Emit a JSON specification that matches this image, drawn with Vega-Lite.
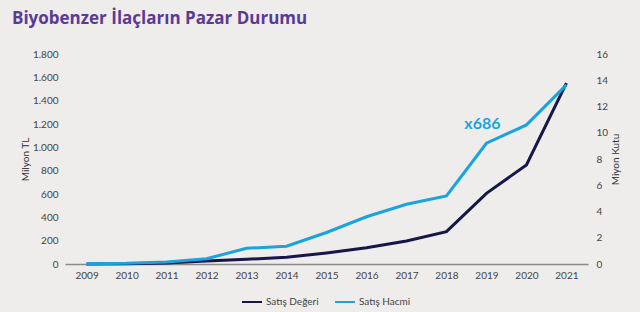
{
  "$schema": "https://vega.github.io/schema/vega-lite/v6.json",
  "width": 523,
  "height": 210,
  "autosize": {"type": "none"},
  "padding": {"left": 65, "top": 54, "right": 52, "bottom": 48},
  "background": "#eeedeb",
  "title": {
    "text": "Biyobenzer İlaçların Pazar Durumu",
    "anchor": "start",
    "frame": "group",
    "dx": -53,
    "offset": 21,
    "font": "Open Sans",
    "fontSize": 17,
    "fontWeight": "bold",
    "color": "#5b3a94"
  },
  "config": {
    "view": {"stroke": null},
    "axis": {"labelFont": "Lato", "labelFontSize": 10, "labelColor": "#444444", "titleFont": "Lato", "titleFontSize": 10, "titleFontWeight": "normal", "titleColor": "#333333", "grid": false, "ticks": false},
    "legend": {"labelFont": "Lato", "labelFontSize": 10, "labelColor": "#444444"}
  },
  "data": {
    "values": [
      {"year": "2009", "deger": 0, "hacim": 0.02},
      {"year": "2010", "deger": 2, "hacim": 0.05},
      {"year": "2011", "deger": 8, "hacim": 0.15},
      {"year": "2012", "deger": 25, "hacim": 0.4},
      {"year": "2013", "deger": 40, "hacim": 1.2},
      {"year": "2014", "deger": 57, "hacim": 1.35},
      {"year": "2015", "deger": 95, "hacim": 2.4},
      {"year": "2016", "deger": 140, "hacim": 3.6},
      {"year": "2017", "deger": 197, "hacim": 4.55},
      {"year": "2018", "deger": 277, "hacim": 5.18},
      {"year": "2019", "deger": 606, "hacim": 9.2},
      {"year": "2020", "deger": 849, "hacim": 10.6},
      {"year": "2021", "deger": 1550, "hacim": 13.65}
    ]
  },
  "encoding": {
    "x": {
      "field": "year",
      "type": "ordinal",
      "scale": {"type": "point", "padding": 0.54},
      "axis": {"title": null, "labelAngle": 0, "labelPadding": 6, "domainColor": "#8a8a8a", "domainWidth": 1.5}
    }
  },
  "layer": [
    {
      "mark": {"type": "line", "strokeWidth": 3},
      "encoding": {
        "y": {
          "field": "deger",
          "type": "quantitative",
          "scale": {"domain": [0, 1800]},
          "axis": {"title": "Milyon TL", "values": [0, 200, 400, 600, 800, 1000, 1200, 1400, 1600, 1800], "labelExpr": "replace(format(datum.value, ','), ',', '.')", "domain": false, "labelPadding": 7, "titlePadding": 2}
        },
        "color": {
          "datum": "Satış Değeri",
          "type": "nominal",
          "scale": {"domain": ["Satış Değeri", "Satış Hacmi"], "range": ["#15164a", "#1aa3df"]},
          "legend": {
            "title": null,
            "orient": "none",
            "direction": "horizontal",
            "legendX": 176,
            "legendY": 237,
            "symbolType": "stroke",
            "symbolSize": 400,
            "symbolStrokeWidth": 2,
            "columnPadding": 12,
            "labelOffset": 3,
            "encode": {"symbols": {"enter": {"stroke": {"signal": "datum.value === 'Satış Değeri' ? '#4a2c9c' : '#1aa3df'"}}, "update": {"stroke": {"signal": "datum.value === 'Satış Değeri' ? '#4a2c9c' : '#1aa3df'"}}}}
          }
        }
      }
    },
    {
      "mark": {"type": "line", "strokeWidth": 3},
      "encoding": {
        "y": {
          "field": "hacim",
          "type": "quantitative",
          "scale": {"domain": [0, 16]},
          "axis": {"title": "Miyon Kutu", "orient": "right", "titleAngle": 270, "values": [0, 2, 4, 6, 8, 10, 12, 14, 16], "domain": false, "labelPadding": 8, "titlePadding": 13}
        },
        "color": {"datum": "Satış Hacmi", "type": "nominal"}
      }
    },
    {
      "data": {"values": [{"year": "2019", "v": 1200, "label": "x686"}]},
      "mark": {"type": "text", "font": "Lato", "fontSize": 16, "fontWeight": "bold", "color": "#1aa3df", "dx": -4},
      "encoding": {
        "y": {"field": "v", "type": "quantitative", "scale": {"domain": [0, 1800]}, "axis": null},
        "text": {"field": "label"}
      }
    }
  ],
  "resolve": {"scale": {"y": "independent"}}
}
